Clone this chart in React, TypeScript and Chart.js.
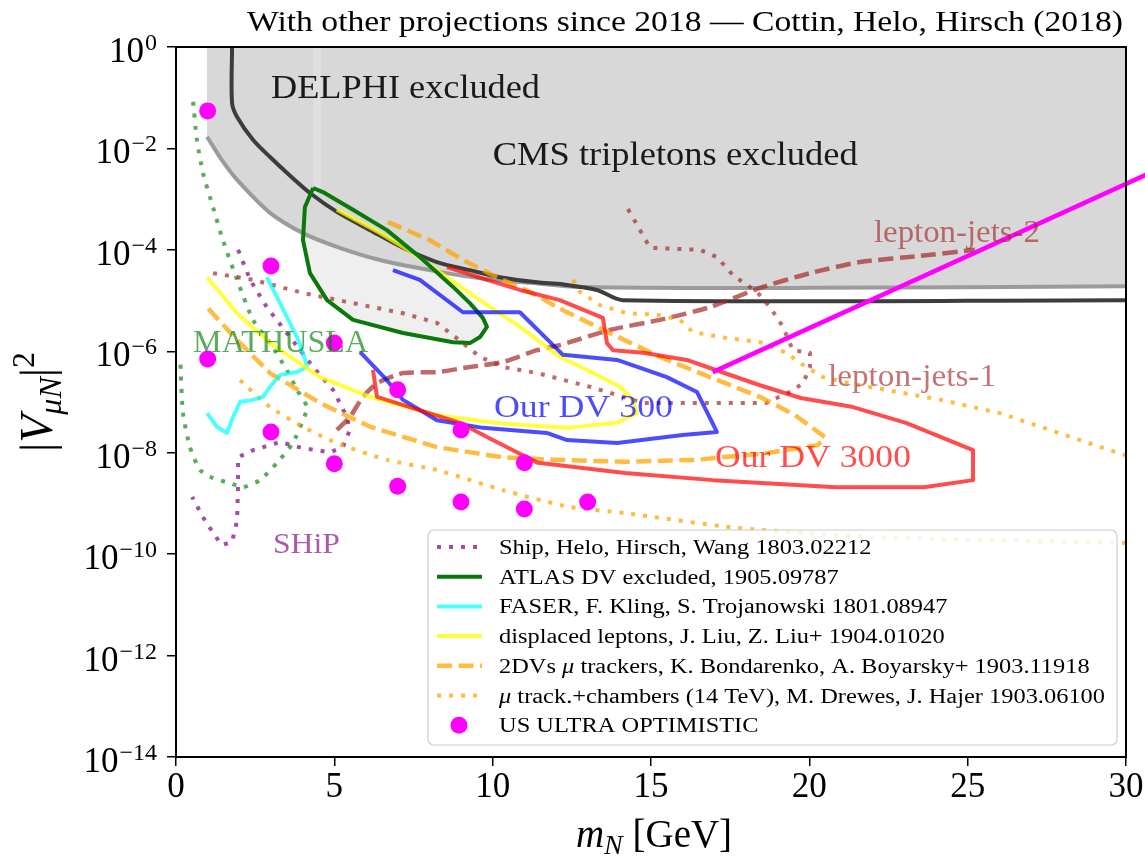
import React, { useEffect, useRef } from "react";
import { Chart, registerables } from "chart.js";

Chart.register(...registerables);

const SERIF = '"Liberation Serif", "Times New Roman", Times, serif';

// ---------- ticks ----------
const xTickValues = [0, 5, 10, 15, 20, 25, 30];
const yTickExponents = [0, -2, -4, -6, -8, -10, -12, -14];

// ---------- excluded regions ----------
const cmsX = [0.98, 1.45, 1.93, 2.97, 4.01, 5.08, 6.44, 8.02, 9.6, 11.18, 12.76, 20, 30];
const cmsY = [1.7e-2, 5.89e-3, 2.4e-3, 5.37e-4, 2.14e-4, 1.15e-4, 6.31e-5, 3.98e-5, 2.75e-5, 2.24e-5, 1.86e-5, 1.78e-5, 1.91e-5];

const delphiX = [1.77, 1.77, 1.93, 2.43, 2.97, 3.5, 4.23, 5.08, 6.13, 7.17, 8.24, 9.28, 10.33, 11.4, 12.2, 13.29, 14.1, 30];
const delphiY = [1, 7.94e-2, 4.17e-2, 1.48e-2, 6.76e-3, 3.31e-3, 1.32e-3, 5.62e-4, 2.45e-4, 1.1e-4, 5.75e-5, 3.98e-5, 2.82e-5, 2.29e-5, 2.09e-5, 1.62e-5, 1.02e-5, 1.02e-5];

const stripeX = [4.47, 4.47];
const stripeY = [1, 1.5e-3];

// ---------- projections ----------
const shipX = [1.96, 2.34, 2.87, 3.5, 4.33, 4.96, 5.4, 5.49, 5.27, 4.86, 4.01, 3.28, 2.43, 1.96, 1.96, 1.93, 1.77, 1.45, 1.17, 0.85, 0.51];
const shipY = [1.0e-4, 2.57e-5, 7.41e-6, 2.29e-6, 4.9e-7, 1.74e-7, 5.01e-8, 2.82e-8, 1.29e-8, 1.02e-8, 1.23e-8, 1.62e-8, 1.12e-8, 8.13e-9, 2.51e-9, 4.68e-10, 1.74e-10, 1.51e-10, 2.63e-10, 5.37e-10, 1.35e-9];

const atlasX = [4.33, 4.07, 4.01, 4.23, 4.77, 5.59, 7.17, 8.75, 9.28, 9.6, 9.82, 9.69, 9.28, 8.75, 7.7, 6.66, 5.59, 5.08, 4.64, 4.33];
const atlasY = [1.66e-3, 6.92e-4, 1.55e-4, 3.47e-5, 1.02e-5, 4.17e-6, 2.29e-6, 1.51e-6, 1.45e-6, 1.91e-6, 3.02e-6, 4.57e-6, 8.91e-6, 1.86e-5, 7.24e-5, 2.45e-4, 6.17e-4, 9.55e-4, 1.38e-3, 1.66e-3];

const faserX = [2.87, 3.19, 3.5, 3.82, 4.01, 4.14, 3.82, 3.28, 2.97, 2.75, 2.43, 2.02, 1.8, 1.61, 1.29, 0.98];
const faserY = [2.88e-5, 1.17e-5, 4.79e-6, 1.91e-6, 9.33e-7, 4.9e-7, 3.89e-7, 3.39e-7, 2.0e-7, 1.26e-7, 1.1e-7, 1.0e-7, 5.01e-8, 2.45e-8, 3.24e-8, 6.03e-8];

const dispX = [5.08, 6.44, 7.48, 8.56, 9.6, 10.86, 12.12, 12.98, 14.02, 14.43, 14.56, 13.93, 12.35, 10.33, 8.24, 6.13, 4.55, 2.97, 1.93, 0.98];
const dispY = [6.17e-4, 2.14e-4, 8.71e-5, 2.88e-5, 1.02e-5, 3.02e-6, 7.76e-7, 4.27e-7, 2.0e-7, 1.1e-7, 6.03e-8, 3.89e-8, 3.09e-8, 3.72e-8, 5.5e-8, 1.26e-7, 3.09e-7, 1.45e-6, 5.62e-6, 2.88e-5];

const twoDvX = [6.69, 8.02, 9.06, 10.14, 11.18, 12.22, 13.7, 15.28, 16.86, 18.44, 19.55, 20.49, 20.27, 18.63, 16.42, 14.18, 11.97, 10.33, 8.24, 6.13, 4.55, 2.97, 1.93, 0.98];
const twoDvY = [3.55e-4, 1.55e-4, 6.31e-5, 2.88e-5, 1.48e-5, 6.46e-6, 2.29e-6, 7.76e-7, 3.09e-7, 1.26e-7, 5.5e-8, 2.04e-8, 1.41e-8, 9.77e-9, 7.24e-9, 6.61e-9, 7.24e-9, 8.13e-9, 1.29e-8, 3.24e-8, 9.55e-8, 3.72e-7, 1.66e-6, 7.41e-6];

const chambersLowX = [2.02, 2.97, 4.01, 5.08, 6.66, 8.24, 10.33, 12.44, 14.18, 17.52, 21.79, 29.97];
const chambersLowY = [2.69e-7, 7.94e-8, 3.24e-8, 1.55e-8, 7.24e-9, 4.57e-9, 1.82e-9, 8.51e-10, 6.46e-10, 3.39e-10, 2.19e-10, 1.66e-10];

const chambersUpX = [12.54, 12.76, 13.39, 14.24, 15.19, 15.91, 16.32, 17.4, 18.44, 19.29, 19.7, 20.43, 21.28, 24.16, 26.02, 29.97];
const chambersUpY = [2.57e-5, 1.48e-5, 8.13e-6, 5.62e-6, 5.25e-6, 4.17e-6, 2.4e-6, 1.82e-6, 1.51e-6, 9.33e-7, 5.89e-7, 3.09e-7, 2.34e-7, 1.1e-7, 6.03e-8, 8.91e-9];

const mathuslaX = [0.54, 0.66, 0.85, 1.17, 1.48, 1.93, 2.43, 2.97, 3.5, 3.82, 4.14, 4.01, 3.69, 3.19, 2.65, 2.12, 1.71, 1.17, 0.76, 0.44, 0.22, 0.13];
const mathuslaY = [8.32e-2, 1.48e-2, 3.31e-3, 6.92e-4, 1.55e-4, 2.57e-5, 4.17e-6, 1.45e-6, 4.27e-7, 1.74e-7, 7.94e-8, 4.37e-8, 1.55e-8, 6.31e-9, 2.88e-9, 2.09e-9, 2.51e-9, 3.16e-9, 4.57e-9, 1.29e-8, 6.03e-8, 7.76e-7];

const lj1X = [1.17, 2.43, 4.01, 5.59, 7.17, 8.24, 9.06, 9.6, 10.33, 11.4, 13.07, 14.75, 18.63, 19.39, 19.8, 20.02, 20.02, 19.48, 19.17, 18.76, 18.35, 17.59, 17.08, 16.55, 14.97, 14.24];
const lj1Y = [3.47e-5, 2.57e-5, 1.41e-5, 8.91e-6, 5.62e-6, 3.63e-6, 1.45e-6, 7.76e-7, 4.9e-7, 3.72e-7, 2.0e-7, 9.55e-8, 9.55e-8, 1.58e-7, 2.34e-7, 4.9e-7, 9.33e-7, 1.05e-6, 3.02e-6, 7.41e-6, 1.48e-5, 3.16e-5, 7.24e-5, 1.0e-4, 1.1e-4, 6.92e-4];

const lj2X = [5.08, 5.49, 5.9, 6.35, 7.17, 8.24, 9.28, 10.33, 11.4, 12.12, 13.7, 15.28, 16.86, 18.44, 20.02, 21.6, 23.49, 25.23];
const lj2Y = [2.82e-8, 5.01e-8, 1.26e-7, 2.34e-7, 3.72e-7, 3.89e-7, 4.9e-7, 6.17e-7, 1.05e-6, 1.32e-6, 2.63e-6, 4.17e-6, 7.41e-6, 1.78e-5, 3.47e-5, 5.75e-5, 7.59e-5, 1.0e-4];

const dv300X = [6.85, 7.7, 9.06, 10.86, 12.22, 13.93, 15.5, 16.45, 17.08, 16.0, 13.93, 12.35, 11.71, 9.69, 8.24, 7.17, 6.66, 5.81];
const dv300Y = [3.98e-5, 2.57e-5, 5.89e-6, 5.89e-6, 8.51e-7, 6.76e-7, 3.09e-7, 1.58e-7, 2.57e-8, 2.24e-8, 1.55e-8, 1.78e-8, 2.45e-8, 3.09e-8, 4.37e-8, 1.1e-7, 2.69e-7, 9.77e-7];

const dv3000X = [8.56, 9.82, 10.86, 12.12, 13.48, 13.61, 13.8, 14.75, 16.13, 16.86, 18.44, 19.73, 21.38, 23.05, 25.17, 25.17, 23.62, 20.84, 18.63, 16.96, 14.18, 11.43, 10.64, 9.82, 8.97, 6.35, 6.22];
const dv3000Y = [4.57e-5, 2.57e-5, 1.62e-5, 1.02e-5, 4.57e-6, 1.45e-6, 1.05e-6, 9.33e-7, 6.76e-7, 4.68e-7, 2.14e-7, 1.2e-7, 7.94e-8, 3.89e-8, 1.12e-8, 2.88e-9, 2.09e-9, 2.09e-9, 2.51e-9, 2.88e-9, 3.98e-9, 6.31e-9, 1.12e-8, 2.04e-8, 3.89e-8, 1.26e-7, 4.27e-7];

const usX = [1, 1, 3, 3, 5, 5, 7, 7, 9, 9, 11, 11, 13];
const usY = [5.5e-2, 7.08e-7, 4.79e-5, 2.57e-8, 1.45e-6, 6.03e-9, 1.74e-7, 2.19e-9, 2.82e-8, 1.07e-9, 6.31e-9, 7.76e-10, 1.07e-9];

const arrowX = [16.95, 30.7];
const arrowY = [3.89e-7, 3.16e-3];

// ---------- labels ----------
const titleText = "With other projections since 2018 \u2014 Cottin, Helo, Hirsch (2018)";

const annotations = [
  { text: "DELPHI excluded", x: 3.0, y: 0.099, size: 34, width: 269, color: "#1a1a1a" },
  { text: "CMS tripletons excluded", x: 10.0, y: 4.7e-3, size: 34, width: 365, color: "#1a1a1a" },
  { text: "lepton-jets-2", x: 22.04, y: 1.43e-4, size: 31, width: 166, color: "rgba(165,42,42,0.65)" },
  { text: "lepton-jets-1", x: 20.59, y: 2.07e-7, size: 31, width: 168, color: "rgba(165,42,42,0.65)" },
  { text: "MATHUSLA", x: 0.54, y: 9.66e-7, size: 32, width: 175, color: "rgba(0,128,0,0.65)" },
  { text: "Our DV 300", x: 10.04, y: 5.06e-8, size: 32, width: 179, color: "rgba(0,0,255,0.7)" },
  { text: "Our DV 3000", x: 17.02, y: 5.22e-9, size: 32, width: 196, color: "rgba(255,0,0,0.7)" },
  { text: "SHiP", x: 3.06, y: 1.05e-10, size: 30, width: 67, color: "rgba(128,0,128,0.65)" },
];

const DOT = [4, 8];
const DASH = [15, 6.5];

function pts(xs: number[], ys: number[]) {
  return xs.map((x, i) => ({ x, y: ys[i] }));
}

function line(label: string, xs: number[], ys: number[], style: any) {
  return {
    label,
    data: pts(xs, ys),
    pointRadius: 0,
    pointHoverRadius: 0,
    tension: 0,
    fill: false,
    borderCapStyle: "butt",
    borderJoinStyle: "round",
    ...style,
  };
}

function buildDatasets() {
  return [
    line("", atlasX, atlasY, { borderWidth: 0, borderColor: "rgba(0,0,0,0)", backgroundColor: "#efefef", fill: "shape", order: 100 }),
    line("", cmsX, cmsY, { borderColor: "#9b9b9b", borderWidth: 4, backgroundColor: "#d8d8d8", fill: "end", tension: 0.3, order: 95 }),
    line("", stripeX, stripeY, { borderColor: "rgba(255,255,255,0.18)", borderWidth: 8, order: 94 }),
    line("", delphiX, delphiY, { borderColor: "#3d3d3d", borderWidth: 4, tension: 0.3, order: 93 }),
    line("", mathuslaX, mathuslaY, { borderColor: "rgba(0,128,0,0.65)", borderWidth: 4, borderDash: DOT, tension: 0.2, order: 60 }),
    line("Ship, Helo, Hirsch, Wang 1803.02212", shipX, shipY, { borderColor: "rgba(128,0,128,0.7)", borderWidth: 4, borderDash: DOT, order: 59, legendRank: 1 }),
    line("", lj1X, lj1Y, { borderColor: "rgba(165,42,42,0.7)", borderWidth: 4, borderDash: DOT, order: 58 }),
    line("", lj2X, lj2Y, { borderColor: "rgba(165,42,42,0.7)", borderWidth: 4.5, borderDash: DASH, tension: 0.2, order: 57 }),
    line("\u03bc track.+chambers (14 TeV), M. Drewes, J. Hajer 1903.06100", chambersLowX, chambersLowY, { borderColor: "rgba(255,165,0,0.75)", borderWidth: 4, borderDash: DOT, tension: 0.2, order: 56, legendRank: 6 }),
    line("", chambersUpX, chambersUpY, { borderColor: "rgba(255,165,0,0.75)", borderWidth: 4, borderDash: DOT, order: 56 }),
    line("2DVs \u03bc trackers, K. Bondarenko, A. Boyarsky+ 1903.11918", twoDvX, twoDvY, { borderColor: "rgba(255,165,0,0.75)", borderWidth: 4.5, borderDash: DASH, order: 55, legendRank: 5 }),
    line("FASER, F. Kling, S. Trojanowski 1801.08947", faserX, faserY, { borderColor: "rgba(0,255,255,0.7)", borderWidth: 4, order: 54, legendRank: 3 }),
    line("displaced leptons, J. Liu, Z. Liu+ 1904.01020", dispX, dispY, { borderColor: "rgba(255,255,0,0.75)", borderWidth: 4, order: 53, legendRank: 4 }),
    line("ATLAS DV excluded, 1905.09787", atlasX, atlasY, { borderColor: "#0a780a", borderWidth: 4, order: 52, legendRank: 2 }),
    line("", dv300X, dv300Y, { borderColor: "rgba(0,0,255,0.7)", borderWidth: 4, order: 51 }),
    line("", dv3000X, dv3000Y, { borderColor: "rgba(255,0,0,0.7)", borderWidth: 4, order: 50 }),
    {
      label: "US ULTRA OPTIMISTIC",
      data: pts(usX, usY),
      showLine: false,
      pointRadius: 8.5,
      pointHoverRadius: 8.5,
      pointBackgroundColor: "#ff00ff",
      pointBorderWidth: 0,
      borderColor: "#ff00ff",
      backgroundColor: "#ff00ff",
      order: 20,
      legendRank: 7,
    },
    line("", arrowX, arrowY, { borderColor: "#ff00ff", borderWidth: 4.5, clip: false, order: 10 }),
  ];
}

function segs(text: string) {
  const out: { t: string; i: boolean }[] = [];
  let buf = "";
  for (const ch of text) {
    if (ch === "\u03bc") {
      if (buf) out.push({ t: buf, i: false });
      out.push({ t: ch, i: true });
      buf = "";
    } else buf += ch;
  }
  if (buf) out.push({ t: buf, i: false });
  return out;
}

function segWidth(ctx: CanvasRenderingContext2D, s: { t: string; i: boolean }[], size: number) {
  let w = 0;
  for (const p of s) {
    ctx.font = `${p.i ? "italic " : ""}${size}px ${SERIF}`;
    w += ctx.measureText(p.t).width;
  }
  return w;
}

function drawSegs(ctx: CanvasRenderingContext2D, s: { t: string; i: boolean }[], x: number, y: number, size: number, sx: number) {
  ctx.save();
  ctx.translate(x, y);
  ctx.scale(sx, 1);
  let cx = 0;
  for (const p of s) {
    ctx.font = `${p.i ? "italic " : ""}${size}px ${SERIF}`;
    ctx.fillText(p.t, cx, 0);
    cx += ctx.measureText(p.t).width;
  }
  ctx.restore();
}

function fitText(ctx: CanvasRenderingContext2D, text: string, x: number, y: number, size: number, width: number, color: string) {
  ctx.save();
  ctx.font = `${size}px ${SERIF}`;
  const w = ctx.measureText(text).width;
  ctx.translate(x, y);
  ctx.scale(width / w, 1);
  ctx.fillStyle = color;
  ctx.textAlign = "left";
  ctx.textBaseline = "alphabetic";
  ctx.fillText(text, 0, 0);
  ctx.restore();
}

const decor = {
  id: "decor",
  afterDraw(chart: any) {
    const ctx: CanvasRenderingContext2D = chart.ctx;
    const { left, right, top, bottom } = chart.chartArea;
    const xs = chart.scales.x;
    const ys = chart.scales.y;

    ctx.save();
    ctx.textBaseline = "alphabetic";

    for (const a of annotations) {
      fitText(ctx, a.text, xs.getPixelForValue(a.x), ys.getPixelForValue(a.y), a.size, a.width, a.color);
    }

    // frame
    ctx.strokeStyle = "#000";
    ctx.lineWidth = 2;
    ctx.setLineDash([]);
    ctx.strokeRect(left, top, right - left, bottom - top);

    // y tick labels (10^n)
    ctx.fillStyle = "#000";
    ctx.textAlign = "left";
    for (const e of yTickExponents) {
      const py = ys.getPixelForValue(Math.pow(10, e));
      const ex = e === 0 ? "0" : "\u2212" + Math.abs(e);
      ctx.font = `24px ${SERIF}`;
      const ew = ctx.measureText(ex).width;
      const rx = left - 19;
      ctx.fillText(ex, rx - ew, py + 3);
      ctx.font = `35px ${SERIF}`;
      const bw = ctx.measureText("10").width;
      ctx.fillText("10", rx - ew - bw - 1, py + 15);
    }

    // x tick labels
    ctx.font = `35px ${SERIF}`;
    ctx.textAlign = "center";
    for (const v of xTickValues) {
      ctx.fillText(String(v), xs.getPixelForValue(v), bottom + 40);
    }

    // x axis title: m_N [GeV]
    {
      const big = 39, small = 28;
      ctx.textAlign = "left";
      ctx.font = `italic ${big}px ${SERIF}`;
      const wm = ctx.measureText("m").width;
      ctx.font = `italic ${small}px ${SERIF}`;
      const wn = ctx.measureText("N").width;
      ctx.font = `${big}px ${SERIF}`;
      const wg = ctx.measureText(" [GeV]").width;
      const total = wm + wn + wg;
      let cx = (left + right) / 2 - total / 2 + 3;
      const by = 847;
      ctx.font = `italic ${big}px ${SERIF}`;
      ctx.fillText("m", cx, by);
      cx += wm;
      ctx.font = `italic ${small}px ${SERIF}`;
      ctx.fillText("N", cx, by + 7);
      cx += wn;
      ctx.font = `${big}px ${SERIF}`;
      ctx.fillText(" [GeV]", cx, by);
    }

    // y axis title: |V_{muN}|^2
    {
      const big = 46, small = 32;
      ctx.save();
      ctx.translate(52, (top + bottom) / 2);
      ctx.rotate(-Math.PI / 2);
      ctx.textAlign = "left";
      const parts = [
        { t: "|", f: `${big}px ${SERIF}`, dy: 0 },
        { t: "V", f: `italic ${big}px ${SERIF}`, dy: 0 },
        { t: "\u03bcN", f: `italic ${small}px ${SERIF}`, dy: 9 },
        { t: "|", f: `${big}px ${SERIF}`, dy: 0 },
        { t: "2", f: `${small}px ${SERIF}`, dy: -18 },
      ];
      let total = 0;
      for (const p of parts) {
        ctx.font = p.f;
        total += ctx.measureText(p.t).width;
      }
      let cx = -total / 2;
      for (const p of parts) {
        ctx.font = p.f;
        ctx.fillText(p.t, cx, p.dy);
        cx += ctx.measureText(p.t).width;
      }
      ctx.restore();
    }

    // title
    {
      ctx.font = `30px ${SERIF}`;
      const w = ctx.measureText(titleText).width;
      const target = 876;
      ctx.save();
      ctx.translate(right - 3 - target, 31);
      ctx.scale(target / w, 1);
      ctx.textAlign = "left";
      ctx.fillStyle = "#000";
      ctx.fillText(titleText, 0, 0);
      ctx.restore();
    }

    // legend
    {
      const items = chart.data.datasets
        .filter((d: any) => d.legendRank)
        .sort((a: any, b: any) => a.legendRank - b.legendRank);
      const bx = 428, by = 530, bw = 689, bh = 215;
      ctx.save();
      ctx.beginPath();
      (ctx as any).roundRect(bx, by, bw, bh, 6);
      ctx.fillStyle = "rgba(255,255,255,0.82)";
      ctx.fill();
      ctx.strokeStyle = "#cccccc";
      ctx.lineWidth = 1.2;
      ctx.stroke();
      const size = 20;
      let maxW = 0;
      for (const d of items) maxW = Math.max(maxW, segWidth(ctx, segs(d.label), size));
      const sx = 606 / maxW;
      items.forEach((d: any, i: number) => {
        const cy = 547 + i * 29.7;
        if (d.showLine === false) {
          ctx.beginPath();
          ctx.arc(459, cy, 8.5, 0, Math.PI * 2);
          ctx.fillStyle = d.pointBackgroundColor;
          ctx.fill();
        } else {
          ctx.beginPath();
          ctx.setLineDash(d.borderDash || []);
          ctx.lineCap = "butt";
          ctx.strokeStyle = d.borderColor;
          ctx.lineWidth = d.borderWidth;
          ctx.moveTo(437, cy);
          ctx.lineTo(482, cy);
          ctx.stroke();
          ctx.setLineDash([]);
        }
        ctx.fillStyle = "#000";
        ctx.textAlign = "left";
        drawSegs(ctx, segs(d.label), 499, cy + 7, size, sx);
      });
      ctx.restore();
    }

    ctx.restore();
  },
};

export default function App() {
  const ref = useRef<HTMLCanvasElement | null>(null);
  useEffect(() => {
    const canvas = ref.current;
    if (!canvas) return;
    const chart = new Chart(canvas, {
      type: "line",
      data: { datasets: buildDatasets() as any },
      options: {
        responsive: false,
        animation: false,
        devicePixelRatio: 1,
        events: [],
        layout: { padding: { top: 47, right: 19, left: 0, bottom: 0 } },
        plugins: {
          legend: { display: false },
          tooltip: { enabled: false },
          title: { display: false },
        },
        scales: {
          x: {
            type: "linear",
            min: 0,
            max: 30,
            afterBuildTicks: (s: any) => {
              s.ticks = xTickValues.map((v) => ({ value: v }));
            },
            afterFit: (s: any) => {
              s.height = 102;
            },
            ticks: { display: false },
            grid: { display: true, drawOnChartArea: false, drawTicks: true, tickLength: 9, color: "#000", lineWidth: 1.5 },
            border: { display: false },
          },
          y: {
            type: "logarithmic",
            min: 1e-14,
            max: 1,
            afterBuildTicks: (s: any) => {
              s.ticks = yTickExponents.map((e) => ({ value: Math.pow(10, e) }));
            },
            afterFit: (s: any) => {
              s.width = 176;
            },
            ticks: { display: false },
            grid: { display: true, drawOnChartArea: false, drawTicks: true, tickLength: 9, color: "#000", lineWidth: 1.5 },
            border: { display: false },
          },
        },
      } as any,
      plugins: [decor],
    });
    return () => chart.destroy();
  }, []);
  return (
    <div style={{ position: "absolute", left: 0, top: 0, width: 1145, height: 859, background: "#fff" }}>
      <canvas ref={ref} width={1145} height={859} style={{ display: "block", width: 1145, height: 859 }} />
    </div>
  );
}
